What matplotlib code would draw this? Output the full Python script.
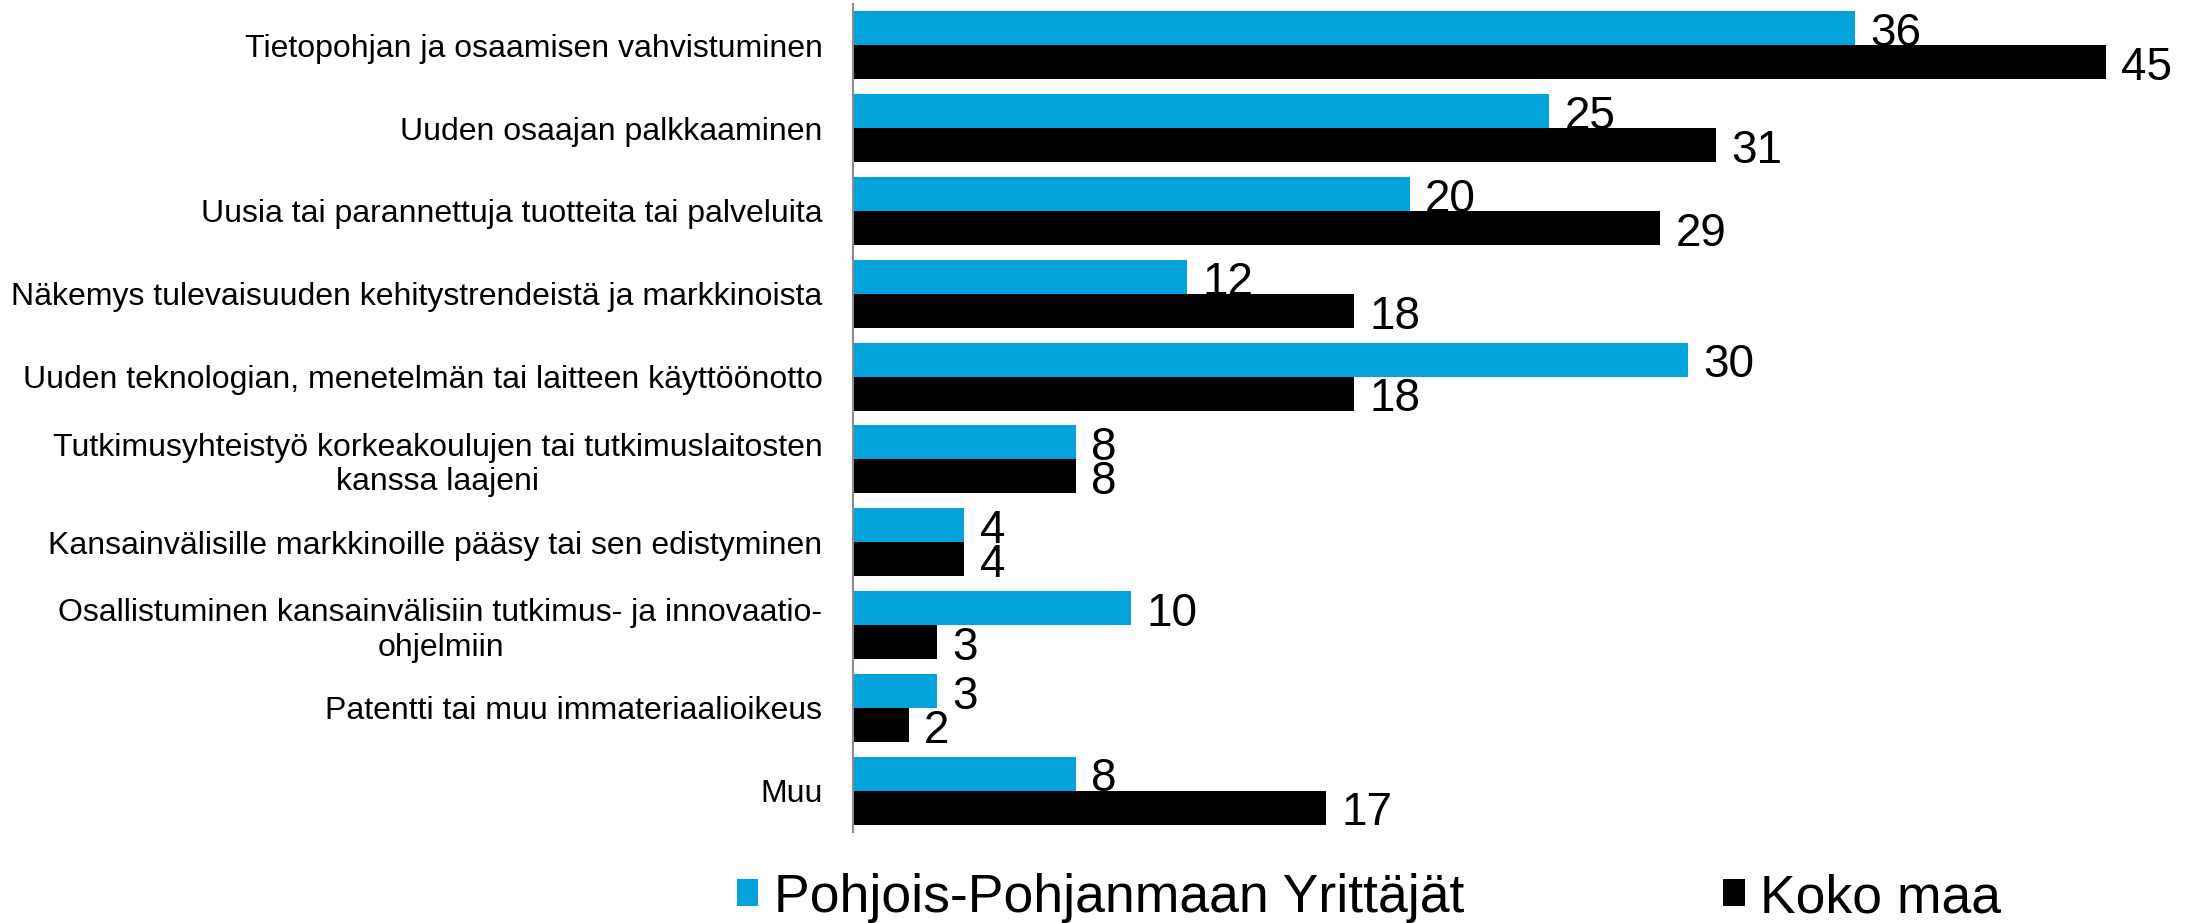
import matplotlib
matplotlib.use("Agg")
import matplotlib.pyplot as plt
import numpy as np

plt.rcParams['font.family'] = ['Liberation Sans', 'DejaVu Sans']

# data
categories = [
    "Tietopohjan ja osaamisen vahvistuminen",
    "Uuden osaajan palkkaaminen",
    "Uusia tai parannettuja tuotteita tai palveluita",
    "Näkemys tulevaisuuden kehitystrendeistä ja markkinoista",
    "Uuden teknologian, menetelmän tai laitteen käyttöönotto",
    "Tutkimusyhteistyö korkeakoulujen tai tutkimuslaitosten\nkanssa laajeni",
    "Kansainvälisille markkinoille pääsy tai sen edistyminen",
    "Osallistuminen kansainvälisiin tutkimus- ja innovaatio-\nohjelmiin",
    "Patentti tai muu immateriaalioikeus",
    "Muu",
]
pohjois = [36, 25, 20, 12, 30, 8, 4, 10, 3, 8]
koko_maa = [45, 31, 29, 18, 18, 8, 4, 3, 2, 17]
series_names = ["Pohjois-Pohjanmaan Yrittäjät", "Koko maa"]

BLUE = "#02A3DA"
BLACK = "#000000"

fig = plt.figure(figsize=(21.85, 9.23), dpi=100)
ax = fig.add_axes([0.3904, 0.0986, 0.6096, 0.8971])

y = np.arange(len(categories))
h = 0.41
b1 = ax.barh(y - h / 2, pohjois, height=h, color=BLUE, label=series_names[0])
b2 = ax.barh(y + h / 2, koko_maa, height=h, color=BLACK, label=series_names[1])

# value labels right of each bar
for bars, vals in ((b1, pohjois), (b2, koko_maa)):
    for rect, v in zip(bars, vals):
        cy = rect.get_y() + rect.get_height() / 2
        ax.annotate(str(v), xy=(rect.get_width(), cy), xytext=(11, -12.8),
                    textcoords="offset points", va="baseline", ha="left",
                    fontsize=33, color="black")

ax.set_ylim(-0.5, len(categories) - 0.5)
ax.invert_yaxis()
ax.set_xlim(0, 47.84)

ax.set_yticks(y)
ax.set_yticklabels(categories, fontsize=23, multialignment="center")
ax.tick_params(axis="y", length=0, pad=22)
ax.xaxis.set_visible(False)

for s in ("top", "right", "bottom"):
    ax.spines[s].set_visible(False)
ax.spines["left"].set_color("#8c8c8c")
ax.spines["left"].set_linewidth(1.5)

fig.legend(handles=[b1, b2], labels=series_names, loc="center",
           bbox_to_anchor=(0.6266, 0.027), ncol=2, frameon=False,
           fontsize=38.5, handlelength=0.4, handleheight=0.4,
           handletextpad=0.29, columnspacing=4.85, borderpad=0)

fig.savefig("out.png", dpi=100)
